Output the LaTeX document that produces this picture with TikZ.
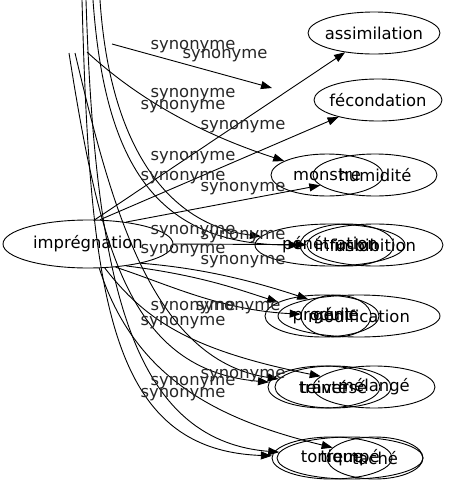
\documentclass[tikz,border=0pt]{standalone}
\usepackage{fontspec}
\setmainfont{DejaVu Sans}
\usetikzlibrary{shapes.geometric, arrows.meta}
\tikzset{
    % word node
    word/.style={
        ellipse,
        draw=black,
        line width=0.9pt,
        inner xsep=-40pt,
        inner ysep=0pt,
        minimum height=42pt,
        font=\fontsize{16.4}{18}\selectfont
    },
    % edge label
    lbl/.style={
        font=\fontsize{16.4}{18}\selectfont,
        text=black!85,
        inner sep=0pt
    },
    % arrow style
    arrow/.style={
        -{Triangle[length=11pt,width=8pt]},
        line width=0.9pt,
        color=black
    }
}
\begin{document}
\begin{tikzpicture}[x=1pt, y=-1pt]
    \useasboundingbox (0,0) rectangle (458,491);
    % nodes
    \node (impr) [word, minimum width=170pt, minimum height=48pt] at (88,244) {imprégnation};
    \node (assim) [word, minimum width=132pt] at (374,33) {assimilation};
    \node (fecond) [word, minimum width=128pt] at (378,100) {fécondation};
    \node (monstre) [word, minimum width=112pt] at (327,175) {monstre};
    \node (humid) [word, minimum width=124pt] at (375,175) {humidité};
    \node (penet) [word, minimum width=150pt] at (330,245) {pénétration};
    \node (imbib) [word, minimum width=136pt] at (375,245) {imbibition};
    \node (infus) [word, minimum width=94pt] at (347,245) {infusion};
    \node (produit) [word, minimum width=114pt] at (322,316) {produit};
    \node (modif) [word, minimum width=162pt] at (359,316) {modification};
    \node (genie) [word, minimum width=70pt] at (336,316) {génie};
    \node (teinte) [word, minimum width=112pt] at (324,387) {teinté};
    \node (travers) [word, minimum width=116pt] at (333,387) {traversé};
    \node (melange) [word, minimum width=122pt] at (374,387) {mélangé};
    \node (tonique) [word, minimum width=120pt] at (332,458) {tonique};
    \node (trempe) [word, minimum width=146pt] at (350,458) {trempé};
    \node (tache) [word, minimum width=96pt] at (375,458) {taché};

    % free ends
    \coordinate (t1) at (82,0);
    \coordinate (t2) at (86,0);
    \coordinate (t3) at (93,0);
    \coordinate (t4) at (100,0);
    \coordinate (s1) at (69,53);
    \coordinate (s2) at (75,53);
    \coordinate (s3) at (87,52);
    \coordinate (s4) at (112,44);
    \coordinate (x1) at (272,88);

    % edges
    \draw [arrow] (impr.74) -- (assim);
    \draw [arrow] (s4) -- (x1);
    \draw [arrow] (impr.64) -- (fecond);
    \draw [arrow] (s3) .. controls (150,110) and (220,140) .. (monstre);
    \draw [arrow] (impr.30) -- (humid);
    \draw [arrow] (t4) .. controls (110,150) and (170,225) .. (penet);
    \draw [arrow] (t3) .. controls (105,170) and (160,245) .. (infus);
    \draw [arrow] (impr.east) -- (imbib);
    \draw [arrow] (impr.-30) .. controls (200,275) and (240,290) .. (produit);
    \draw [arrow] (impr.-40) .. controls (170,285) and (220,310) .. (genie);
    \draw [arrow] (impr.-20) .. controls (200,268) and (250,280) .. (modif);
    \draw [arrow] (s1) .. controls (100,250) and (130,370) .. (teinte);
    \draw [arrow] (s2) .. controls (110,200) and (150,360) .. (travers);
    \draw [arrow] (impr.-55) .. controls (145,320) and (190,350) .. (melange);
    \draw [arrow] (t1) .. controls (90,300) and (110,450) .. (tonique);
    \draw [arrow] (t2) .. controls (95,280) and (130,440) .. (trempe);
    \draw [arrow] (impr.-65) .. controls (135,380) and (220,420) .. (tache);

    % labels
    \node (l1) [lbl] at (193,47) {synonyme};
    \node (l2) [lbl] at (225,56) {synonyme};
    \node (l3) [lbl] at (193,95) {synonyme};
    \node (l4) [lbl] at (183,107) {synonyme};
    \node (l5) [lbl] at (243,127) {synonyme};
    \node (l6) [lbl] at (193,158) {synonyme};
    \node (l7) [lbl] at (183,178) {synonyme};
    \node (l8) [lbl] at (243,189) {synonyme};
    \node (l9) [lbl] at (193,232) {synonyme};
    \node (l10) [lbl] at (243,237) {synonyme};
    \node (l11) [lbl] at (183,251) {synonyme};
    \node (l12) [lbl] at (243,262) {synonyme};
    \node (l13) [lbl] at (193,308) {synonyme};
    \node (l14) [lbl] at (238,308) {synonyme};
    \node (l15) [lbl] at (183,323) {synonyme};
    \node (l16) [lbl] at (243,376) {synonyme};
    \node (l17) [lbl] at (193,383) {synonyme};
    \node (l18) [lbl] at (183,395) {synonyme};
\end{tikzpicture}
\end{document}
